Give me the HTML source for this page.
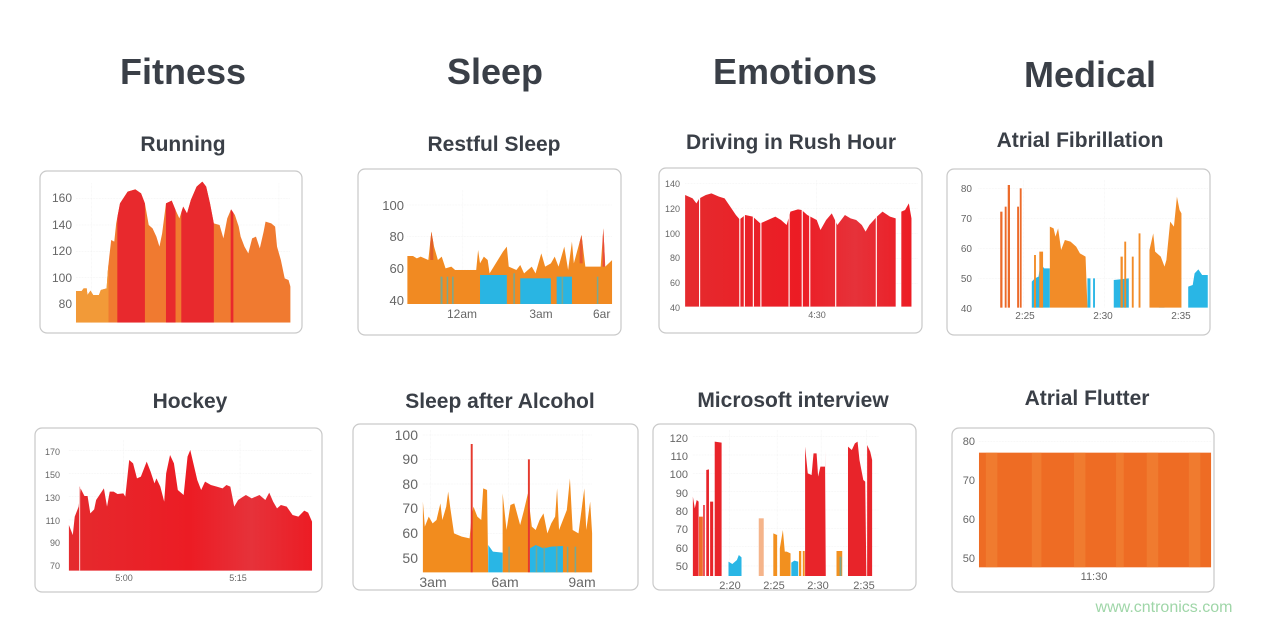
<!DOCTYPE html>
<html><head><meta charset="utf-8"><style>
html,body{margin:0;padding:0;background:#fff;}
svg{display:block;font-family:"Liberation Sans",sans-serif;}
.t{font-weight:bold;fill:#3a3f47;text-anchor:middle;}
.h{font-size:36px;}
.s{font-size:21px;}
.a{fill:#666;font-size:12px;}
.g{stroke:#e6e6e6;stroke-width:1;stroke-dasharray:2 2;vector-effect:non-scaling-stroke;fill:none;}
.p{fill:#fff;stroke:#c9c9c9;stroke-width:1.2;}
</style></head><body>
<svg width="1267" height="622" viewBox="0 0 1267 622">
<text class="t h" x="183" y="84">Fitness</text>
<text class="t h" x="495" y="84">Sleep</text>
<text class="t h" x="795" y="84">Emotions</text>
<text class="t h" x="1090" y="87">Medical</text>
<text class="t s" x="183" y="151">Running</text>
<text class="t s" x="494" y="151">Restful Sleep</text>
<text class="t s" x="791" y="149">Driving in Rush Hour</text>
<text class="t s" x="1080" y="147">Atrial Fibrillation</text>
<text class="t s" x="190" y="408">Hockey</text>
<text class="t s" x="500" y="408">Sleep after Alcohol</text>
<text class="t s" x="793" y="407">Microsoft interview</text>
<text class="t s" x="1087" y="405">Atrial Flutter</text>

<rect class="p" x="40" y="171" width="262" height="162" rx="7"/>
<rect class="p" x="358" y="169" width="263" height="166" rx="7"/>
<rect class="p" x="659" y="168" width="263" height="165" rx="7"/>
<rect class="p" x="947" y="169" width="263" height="166" rx="7"/>
<rect class="p" x="35" y="428" width="287" height="164" rx="7"/>
<rect class="p" x="353" y="424" width="285" height="166" rx="7"/>
<rect class="p" x="653" y="424" width="263" height="166" rx="7"/>
<rect class="p" x="952" y="428" width="262" height="164" rx="7"/>

<defs>
<clipPath id="c1"><path d="M120,488 L120,393 L135,393 L140,385 L148,385 L150,405 L158,392 L165,405 L180,405 L185,390 L200,385 L203,335 L207,290 L212,240 L220,245 L225,190 L235,130 L255,95 L275,88 L290,100 L300,130 L310,195 L320,205 L330,230 L338,260 L345,220 L355,130 L370,122 L380,150 L390,175 L400,140 L410,160 L420,120 L435,80 L450,65 L460,80 L470,130 L480,190 L495,195 L505,235 L515,175 L525,148 L535,165 L545,200 L550,230 L560,260 L570,280 L580,235 L590,230 L600,265 L610,215 L615,185 L630,190 L640,200 L645,260 L655,300 L665,355 L675,360 L680,380 L680,488 Z"/></clipPath>
<clipPath id="c2"><path d="M985,432 L985,288 L1000,288 L1010,295 L1020,290 L1040,300 L1048,215 L1055,260 L1065,300 L1075,290 L1085,325 L1100,320 L1110,330 L1165,330 L1170,270 L1175,310 L1185,290 L1195,300 L1200,340 L1235,275 L1245,260 L1250,320 L1270,330 L1280,315 L1290,340 L1300,330 L1310,320 L1320,340 L1335,280 L1345,320 L1360,310 L1370,290 L1380,320 L1395,260 L1405,330 L1415,245 L1420,310 L1440,225 L1450,320 L1490,320 L1497,205 L1502,320 L1520,300 L1520,432 Z"/></clipPath>
<linearGradient id="rg" x1="0" x2="1"><stop offset="0" stop-color="#e52a2e"/><stop offset=".5" stop-color="#ec1c24"/><stop offset=".75" stop-color="#e6323a"/><stop offset="1" stop-color="#ec1c24"/></linearGradient>
</defs>

<!-- Zoom1 charts -->
<g transform="translate(30,160) scale(0.383,0.3333)">
 <g class="g"><line x1="120" y1="115" x2="680" y2="115"/><line x1="120" y1="195" x2="680" y2="195"/><line x1="120" y1="275" x2="680" y2="275"/><line x1="120" y1="352" x2="680" y2="352"/><line x1="160" y1="70" x2="160" y2="488"/><line x1="650" y1="70" x2="650" y2="488"/>
 <line x1="985" y1="135" x2="1520" y2="135"/><line x1="985" y1="230" x2="1520" y2="230"/><line x1="985" y1="330" x2="1520" y2="330"/><line x1="1130" y1="90" x2="1130" y2="432"/><line x1="1350" y1="90" x2="1350" y2="432"/></g>
 <g clip-path="url(#c1)">
  <rect x="100" y="0" width="600" height="500" fill="#f07a30"/>
  <rect x="100" y="0" width="105" height="500" fill="#f29a38"/>
  <rect x="228" y="0" width="72" height="500" fill="#e8292d"/>
  <rect x="355" y="0" width="25" height="500" fill="#e8292d"/>
  <rect x="395" y="0" width="85" height="500" fill="#e8292d"/>
  <rect x="524" y="0" width="7" height="500" fill="#e8292d"/>
 </g>
 <g clip-path="url(#c2)">
  <rect x="980" y="0" width="560" height="500" fill="#f18a22"/>
  <rect x="1045" y="200" width="8" height="100" fill="#e0602a"/>
  <rect x="1435" y="200" width="8" height="110" fill="#e85a30"/>
  <rect x="1495" y="190" width="6" height="130" fill="#e84a40"/>
 </g>
 <rect x="1175" y="345" width="70" height="87" fill="#29b5e3"/>
 <rect x="1280" y="355" width="80" height="77" fill="#29b5e3"/>
 <rect x="1375" y="350" width="40" height="82" fill="#29b5e3"/>
 <g fill="#7aa890"><rect x="1072" y="350" width="5" height="82"/><rect x="1088" y="350" width="4" height="82"/><rect x="1102" y="350" width="4" height="82"/><rect x="1262" y="340" width="4" height="92"/><rect x="1388" y="350" width="4" height="82"/><rect x="1480" y="350" width="4" height="82"/></g>
</g>
<g class="a" fill="#666">
<text x="72" y="202" text-anchor="end">160</text><text x="72" y="229" text-anchor="end">140</text><text x="72" y="255" text-anchor="end">120</text><text x="72" y="282" text-anchor="end">100</text><text x="72" y="308" text-anchor="end">80</text>
<text x="404" y="210" text-anchor="end" font-size="13">100</text><text x="404" y="241" text-anchor="end" font-size="13">80</text><text x="404" y="273" text-anchor="end" font-size="13">60</text><text x="404" y="305" text-anchor="end" font-size="13">40</text>
<text x="462" y="318" text-anchor="middle">12am</text><text x="541" y="318" text-anchor="middle">3am</text><text x="593" y="318">6ar</text>
</g>

<!-- Zoom2 charts -->
<g transform="translate(640,160) scale(0.376,0.3333)">
 <g class="g"><line x1="120" y1="70" x2="740" y2="70"/><line x1="120" y1="145" x2="740" y2="145"/><line x1="120" y1="220" x2="740" y2="220"/><line x1="120" y1="295" x2="740" y2="295"/><line x1="120" y1="370" x2="740" y2="370"/><line x1="470" y1="60" x2="470" y2="440"/>
 <line x1="900" y1="85" x2="1510" y2="85"/><line x1="900" y1="175" x2="1510" y2="175"/><line x1="900" y1="265" x2="1510" y2="265"/><line x1="900" y1="355" x2="1510" y2="355"/><line x1="1020" y1="60" x2="1020" y2="443"/><line x1="1235" y1="60" x2="1235" y2="443"/></g>
 <path fill="url(#rg)" d="M120,440 L120,105 L140,115 L150,130 L158,115 L175,105 L190,100 L210,110 L225,115 L240,140 L255,165 L265,178 L280,165 L300,170 L320,190 L340,180 L360,170 L375,180 L390,195 L400,155 L420,148 L430,150 L445,165 L470,180 L480,210 L495,180 L510,160 L525,195 L545,165 L560,175 L575,180 L590,195 L600,215 L610,195 L630,170 L645,155 L665,170 L680,175 L680,440 Z M695,440 L695,155 L705,150 L715,130 L722,175 L722,440 Z"/>
 <g fill="#fff"><rect x="157" y="100" width="3" height="340"/><rect x="264" y="100" width="3" height="340"/><rect x="276" y="100" width="3" height="340"/><rect x="300" y="100" width="3" height="340"/><rect x="320" y="100" width="3" height="340"/><rect x="395" y="100" width="3" height="340"/><rect x="430" y="100" width="3" height="340"/><rect x="450" y="100" width="3" height="340"/><rect x="519" y="100" width="3" height="340"/><rect x="627" y="100" width="3" height="340"/></g>
 <g fill="#ec6a2a"><rect x="958" y="155" width="6" height="288"/><rect x="970" y="140" width="5" height="303"/><rect x="978" y="75" width="6" height="368"/><rect x="1003" y="140" width="5" height="303"/><rect x="1010" y="85" width="5" height="358"/></g>
 <path fill="#29b6e5" d="M1042,443 L1042,365 L1050,355 L1060,350 L1065,310 L1075,325 L1090,325 L1090,443 Z M1190,443 L1190,355 L1198,355 L1198,443 Z M1205,443 L1205,355 L1210,355 L1210,443 Z M1260,443 L1260,360 L1300,355 L1300,443 Z M1380,443 L1380,320 L1395,320 L1395,443 Z M1458,443 L1458,380 L1470,375 L1475,340 L1485,328 L1495,345 L1510,345 L1510,443 Z"/>
 <path fill="#f28c28" d="M1048,443 L1048,285 L1053,285 L1053,443 Z M1062,443 L1062,275 L1072,275 L1072,443 Z M1090,443 L1090,200 L1100,205 L1105,230 L1112,205 L1120,270 L1130,240 L1145,245 L1160,260 L1170,280 L1185,290 L1190,443 Z M1278,443 L1278,290 L1284,290 L1284,443 Z M1288,443 L1288,245 L1293,245 L1293,443 Z M1308,443 L1308,290 L1313,290 L1313,443 Z M1326,443 L1326,220 L1331,220 L1331,443 Z M1355,443 L1355,270 L1365,220 L1370,275 L1385,290 L1395,320 L1400,300 L1410,185 L1420,200 L1428,110 L1435,150 L1440,160 L1440,443 Z"/>
</g>
<g class="a">
<text x="680" y="187" text-anchor="end" font-size="9">140</text><text x="680" y="212" text-anchor="end" font-size="9">120</text><text x="680" y="237" text-anchor="end" font-size="9">100</text><text x="680" y="261" text-anchor="end" font-size="9">80</text><text x="680" y="286" text-anchor="end" font-size="9">60</text><text x="680" y="311" text-anchor="end" font-size="9">40</text>
<text x="817" y="318" text-anchor="middle" font-size="9">4:30</text>
<text x="972" y="192" text-anchor="end" font-size="10">80</text><text x="972" y="222" text-anchor="end" font-size="10">70</text><text x="972" y="252" text-anchor="end" font-size="10">60</text><text x="972" y="282" text-anchor="end" font-size="10">50</text><text x="972" y="312" text-anchor="end" font-size="10">40</text>
<text x="1025" y="319" text-anchor="middle" font-size="10">2:25</text><text x="1103" y="319" text-anchor="middle" font-size="10">2:30</text><text x="1181" y="319" text-anchor="middle" font-size="10">2:35</text>
</g>

<!-- Zoom3 charts -->
<g transform="translate(30,420) scale(0.389,0.3333)">
 <g class="g"><line x1="100" y1="92" x2="725" y2="92"/><line x1="100" y1="160" x2="725" y2="160"/><line x1="100" y1="230" x2="725" y2="230"/><line x1="100" y1="300" x2="725" y2="300"/><line x1="100" y1="368" x2="725" y2="368"/><line x1="240" y1="60" x2="240" y2="452"/><line x1="540" y1="60" x2="540" y2="452"/>
 <line x1="1010" y1="45" x2="1445" y2="45"/><line x1="1010" y1="118" x2="1445" y2="118"/><line x1="1010" y1="192" x2="1445" y2="192"/><line x1="1010" y1="265" x2="1445" y2="265"/><line x1="1010" y1="340" x2="1445" y2="340"/><line x1="1030" y1="30" x2="1030" y2="457"/><line x1="1230" y1="30" x2="1230" y2="457"/><line x1="1420" y1="30" x2="1420" y2="457"/></g>
 <path fill="url(#rg)" d="M100,452 L100,315 L110,345 L115,290 L125,260 L130,205 L140,228 L148,228 L155,280 L165,268 L170,240 L190,205 L198,260 L205,215 L215,215 L225,222 L240,220 L245,230 L255,120 L265,130 L275,175 L285,170 L300,125 L310,155 L320,190 L325,175 L335,200 L345,245 L350,160 L360,105 L370,130 L380,210 L395,225 L405,110 L412,90 L420,130 L430,180 L440,210 L450,185 L465,195 L480,200 L495,205 L505,195 L515,200 L525,260 L535,240 L545,232 L555,225 L570,235 L590,225 L605,240 L615,218 L625,245 L635,265 L645,255 L660,260 L675,285 L690,290 L705,272 L715,278 L725,305 L725,452 Z"/>
 <rect x="126" y="200" width="3" height="252" fill="#f7c0c0"/>
 <path fill="#f28c1e" d="M1010,457 L1010,245 L1015,320 L1025,290 L1035,310 L1045,300 L1055,250 L1060,300 L1070,260 L1075,215 L1080,260 L1090,340 L1110,350 L1130,355 L1135,290 L1140,260 L1150,290 L1160,300 L1165,205 L1175,210 L1178,457 Z M1215,457 L1215,220 L1225,330 L1235,255 L1245,250 L1260,315 L1270,270 L1280,220 L1290,320 L1300,330 L1310,300 L1320,280 L1330,340 L1340,310 L1350,290 L1355,205 L1360,330 L1380,270 L1388,175 L1395,330 L1410,340 L1425,205 L1430,330 L1440,245 L1445,340 L1445,457 Z"/>
 <path fill="#29b6e5" d="M1178,457 L1178,375 L1190,395 L1215,398 L1215,457 Z M1285,457 L1285,385 L1300,375 L1320,385 L1340,380 L1370,378 L1370,457 Z"/>
 <g fill="#7aa890"><rect x="1300" y="380" width="4" height="77"/><rect x="1320" y="380" width="4" height="77"/><rect x="1352" y="380" width="4" height="77"/><rect x="1380" y="380" width="4" height="77"/><rect x="1400" y="380" width="4" height="77"/><rect x="1230" y="380" width="3" height="77"/></g>
 <g fill="#e53a2e"><rect x="1133" y="72" width="5" height="385"/><rect x="1280" y="118" width="5" height="339"/></g>
</g>
<g class="a">
<text x="60" y="455" text-anchor="end" font-size="9">170</text><text x="60" y="478" text-anchor="end" font-size="9">150</text><text x="60" y="501" text-anchor="end" font-size="9">130</text><text x="60" y="524" text-anchor="end" font-size="9">110</text><text x="60" y="546" text-anchor="end" font-size="9">90</text><text x="60" y="569" text-anchor="end" font-size="9">70</text>
<text x="124" y="581" text-anchor="middle" font-size="9">5:00</text><text x="238" y="581" text-anchor="middle" font-size="9">5:15</text>
<text x="418" y="440" text-anchor="end" font-size="14">100</text><text x="418" y="464" text-anchor="end" font-size="14">90</text><text x="418" y="489" text-anchor="end" font-size="14">80</text><text x="418" y="513" text-anchor="end" font-size="14">70</text><text x="418" y="538" text-anchor="end" font-size="14">60</text><text x="418" y="563" text-anchor="end" font-size="14">50</text>
<text x="433" y="587" text-anchor="middle" font-size="14">3am</text><text x="505" y="587" text-anchor="middle" font-size="14">6am</text><text x="582" y="587" text-anchor="middle" font-size="14">9am</text>
</g>

<!-- Zoom4 charts -->
<g transform="translate(645,420) scale(0.383,0.3333)">
 <g class="g"><line x1="125" y1="50" x2="610" y2="50"/><line x1="125" y1="105" x2="610" y2="105"/><line x1="125" y1="160" x2="610" y2="160"/><line x1="125" y1="215" x2="610" y2="215"/><line x1="125" y1="270" x2="610" y2="270"/><line x1="125" y1="325" x2="610" y2="325"/><line x1="125" y1="380" x2="610" y2="380"/><line x1="125" y1="438" x2="610" y2="438"/><line x1="220" y1="30" x2="220" y2="468"/><line x1="345" y1="30" x2="345" y2="468"/><line x1="460" y1="30" x2="460" y2="468"/><line x1="578" y1="30" x2="578" y2="468"/>
 <line x1="872" y1="65" x2="1478" y2="65"/></g>
 <path fill="#e8242a" d="M125,468 L125,230 L130,265 L135,240 L140,245 L140,468 Z M152,468 L152,255 L156,255 L156,468 Z M160,468 L160,150 L167,148 L167,468 Z M170,468 L170,245 L178,245 L178,468 Z M182,468 L182,65 L200,68 L200,468 Z M418,468 L418,80 L425,160 L435,165 L440,100 L448,100 L452,170 L458,140 L470,140 L470,90 L472,468 Z M530,468 L530,80 L540,90 L548,70 L555,65 L560,120 L570,180 L575,185 L578,468 Z M580,468 L580,75 L588,95 L593,120 L593,468 Z"/>
 <rect x="141" y="290" width="10" height="178" fill="#ef6b2a"/>
 <path fill="#29b6e5" d="M218,468 L218,425 L228,432 L240,420 L245,405 L252,412 L252,468 Z M382,468 L382,428 L390,422 L400,425 L400,468 Z"/>
 <rect x="297" y="295" width="13" height="173" fill="#f5b48a"/>
 <path fill="#f2901f" d="M335,468 L335,340 L345,345 L345,468 Z M352,468 L352,385 L360,330 L365,395 L370,395 L380,400 L380,468 Z M402,468 L402,393 L408,393 L408,468 Z M412,468 L412,393 L417,393 L417,468 Z M500,468 L500,393 L515,393 L515,468 Z"/>
 <rect x="508" y="410" width="5" height="58" fill="#7aa890"/>
 <rect x="872" y="98" width="606" height="344" fill="#ee6c24"/>
 <g fill="#f28a3a" opacity=".5"><rect x="890" y="98" width="30" height="344"/><rect x="1010" y="98" width="25" height="344"/><rect x="1120" y="98" width="30" height="344"/><rect x="1230" y="98" width="20" height="344"/><rect x="1310" y="98" width="30" height="344"/><rect x="1420" y="98" width="30" height="344"/></g>
</g>
<g class="a">
<text x="688" y="442" text-anchor="end" font-size="11">120</text><text x="688" y="460" text-anchor="end" font-size="11">110</text><text x="688" y="478" text-anchor="end" font-size="11">100</text><text x="688" y="497" text-anchor="end" font-size="11">90</text><text x="688" y="515" text-anchor="end" font-size="11">80</text><text x="688" y="533" text-anchor="end" font-size="11">70</text><text x="688" y="552" text-anchor="end" font-size="11">60</text><text x="688" y="570" text-anchor="end" font-size="11">50</text>
<text x="730" y="589" text-anchor="middle" font-size="11">2:20</text><text x="774" y="589" text-anchor="middle" font-size="11">2:25</text><text x="818" y="589" text-anchor="middle" font-size="11">2:30</text><text x="864" y="589" text-anchor="middle" font-size="11">2:35</text>
<text x="975" y="445" text-anchor="end" font-size="11">80</text><text x="975" y="484" text-anchor="end" font-size="11">70</text><text x="975" y="523" text-anchor="end" font-size="11">60</text><text x="975" y="562" text-anchor="end" font-size="11">50</text>
<text x="1094" y="580" text-anchor="middle" font-size="11">11:30</text>
</g>
<text x="1164" y="612" text-anchor="middle" font-size="16" fill="#9fd6a8">www.cntronics.com</text>
</svg>
</body></html>
